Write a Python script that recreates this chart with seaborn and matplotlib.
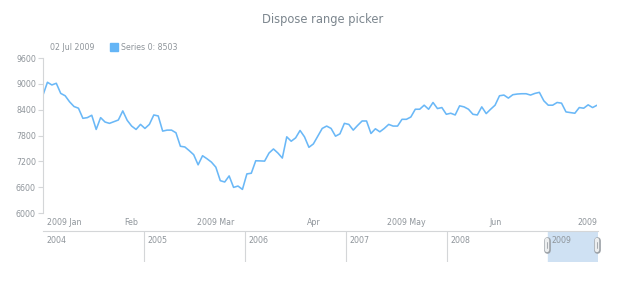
import matplotlib
matplotlib.use("Agg")
import matplotlib.pyplot as plt
import matplotlib.transforms as mtransforms
import seaborn as sns
import numpy as np
import pandas as pd

# ---- data ----
holidays = ["2009-01-19", "2009-02-16", "2009-04-10", "2009-05-25"]
dates = pd.bdate_range("2009-01-02", "2009-07-02")
dates = dates[~dates.isin(pd.to_datetime(holidays))]

values = [
    8739, 9036, 8974, 9013, 8778, 8723, 8582, 8473, 8434, 8199,
    8215, 8270, 7941, 8215, 8113, 8082, 8121, 8160, 8371, 8152,
    8019, 7941, 8058, 7964, 8058, 8277, 8254, 7902, 7925, 7925,
    7863,
    7550, 7534, 7448, 7354, 7119, 7330, 7260, 7182, 7064, 6751,
    6720, 6861, 6595, 6626, 6548, 6908, 6924, 7213, 7210, 7205,
    7393, 7487, 7393, 7276, 7769, 7667, 7745, 7917, 7769, 7526,
    7604, 7784,
    7964, 8019, 7964, 7784, 7839, 8082, 8058, 7925, 8035, 8137,
    8137, 7847, 7956, 7886, 7964, 8058, 8019, 8019, 8176, 8176,
    8230, 8410, 8410, 8504, 8410, 8567, 8426, 8449, 8293, 8317,
    8277, 8489,
    8465, 8410, 8293, 8277, 8465, 8309, 8410, 8504, 8723, 8739,
    8669, 8747, 8763, 8770, 8770, 8739, 8778, 8802, 8606, 8504,
    8504, 8567, 8551, 8348, 8332, 8317, 8449, 8434, 8512, 8449,
    8503,
]
y_ticks = [6000, 6600, 7200, 7800, 8400, 9000, 9600]
month_labels = ["2009 Jan", "Feb", "2009 Mar", "Apr", "2009 May", "Jun", "2009"]
scroller_years = [2004, 2005, 2006, 2007, 2008, 2009]
title = "Dispose range picker"
legend_date = "02 Jul 2009"
series_name = "Series 0"

df = pd.DataFrame({"idx": np.arange(len(values)), "value": values, "date": dates})

sns.set_theme(style="white")
plt.rcParams["font.family"] = ["DejaVu Sans"]

W, H = 620, 300
fig = plt.figure(figsize=(W / 100, H / 100), dpi=100)
fig.patch.set_facecolor("white")

def fx(px):
    return px / W

def fy(py):
    return 1 - py / H

text_col = "#8f959b"
grid_col = "#d4d6d8"
line_col = "#6ab8f7"

# ---- main chart ----
ax = fig.add_axes([fx(43), fy(213), fx(597) - fx(43), fy(58) - fy(213)])
sns.lineplot(data=df, x="idx", y="value", ax=ax, color=line_col, linewidth=1.15)
ax.set_xlim(0, len(values) - 1)
ax.set_ylim(y_ticks[0], y_ticks[-1])
ax.set_yticks(y_ticks)
ax.set_yticklabels([str(v) for v in y_ticks])
month_idx = [i for i in range(len(dates)) if i == 0 or dates[i].month != dates[i - 1].month]
ax.set_xticks(month_idx)
ax.set_xticklabels(month_labels)
ax.set_xlabel("")
ax.set_ylabel("")
for s in ["top", "right", "bottom"]:
    ax.spines[s].set_visible(False)
ax.spines["left"].set_color(grid_col)
ax.spines["left"].set_linewidth(0.8)
ax.tick_params(axis="y", length=3.6, width=0.8, color=grid_col, labelsize=5.7,
               labelcolor=text_col, pad=1.5, left=True)
ax.tick_params(axis="x", length=0, labelsize=5.7, labelcolor=text_col, pad=3.5)
xl = ax.get_xticklabels()
xl[0].set_ha("left")
xl[0].set_transform(xl[0].get_transform() +
                    mtransforms.ScaledTranslation(4 / 100, 0, fig.dpi_scale_trans))
xl[-1].set_ha("right")
xl[-1].set_transform(xl[-1].get_transform() +
                     mtransforms.ScaledTranslation(5 / 100, 0, fig.dpi_scale_trans))
ax.set_facecolor("white")
ax.grid(False)

# ---- title & legend ----
fig.text(fx(323), fy(20), title, ha="center", va="center", fontsize=8.3, color="#7c868e")
fig.text(fx(50), fy(47), legend_date, ha="left", va="center", fontsize=5.7, color=text_col)
fig.patches.append(plt.Rectangle((fx(110), fy(51)), fx(8), fy(43) - fy(51),
                                 transform=fig.transFigure, color="#64b5f6", figure=fig))
fig.text(fx(121), fy(47), f"{series_name}: {values[-1]}", ha="left", va="center",
         fontsize=5.7, color=text_col)

# ---- scroller ----
sc = fig.add_axes([fx(43), fy(262), fx(598) - fx(43), fy(231) - fy(262)])
sc.set_xlim(scroller_years[0], scroller_years[-1] + 0.5)
sc.set_ylim(0, 1)
for s in ["left", "right", "bottom"]:
    sc.spines[s].set_visible(False)
sc.spines["top"].set_color(grid_col)
sc.spines["top"].set_linewidth(0.8)
sc.set_xticks([])
sc.set_yticks([])
sc.set_facecolor("none")
sc.axvspan(scroller_years[-1], scroller_years[-1] + 0.5, color="#cfe1f3", zorder=1)
for yr in scroller_years[1:-1]:
    sc.axvline(yr, color=grid_col, lw=0.8, zorder=2)
for yr in scroller_years:
    sc.text(yr + 0.035, 0.84, str(yr), ha="left", va="top", fontsize=5.7,
            color=text_col, zorder=3)
for hx in [scroller_years[-1] - 0.005, scroller_years[-1] + 0.495]:
    sc.plot([hx, hx], [0.40, 0.70], color="#9aa0a6", lw=4.8, solid_capstyle="round",
            zorder=4, clip_on=False)
    sc.plot([hx, hx], [0.40, 0.70], color="#eceeef", lw=3.2, solid_capstyle="round",
            zorder=5, clip_on=False)
    sc.plot([hx, hx], [0.44, 0.66], color="#9aa0a6", lw=0.6, zorder=6, clip_on=False)

fig.savefig("out.png", dpi=100, facecolor="white")
